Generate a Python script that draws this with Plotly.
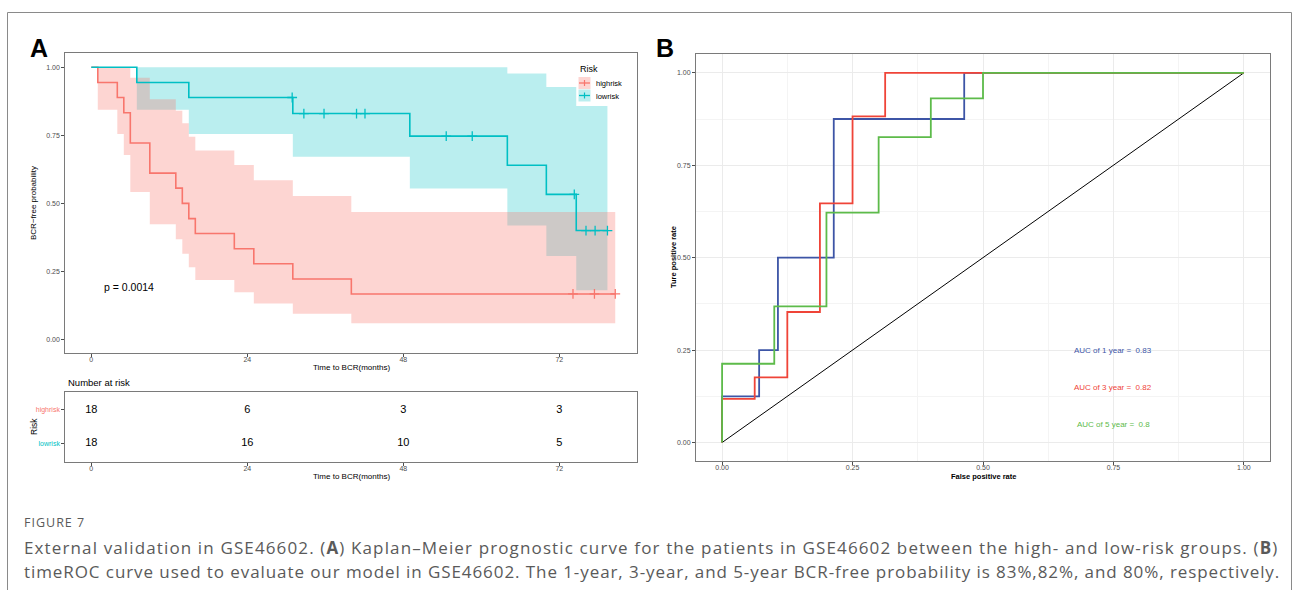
import plotly.graph_objects as go

W, H = 1293, 590

# ---------------- data ----------------
time_ticks = [0, 24, 48, 72]

# Kaplan-Meier: high risk group
hi_time = [0, 1, 4, 5, 6, 9, 13, 14, 15, 16, 22, 25, 31, 40, 80.6]
hi_surv = [1.0, 0.944, 0.889, 0.833, 0.722, 0.611, 0.556, 0.5, 0.444, 0.389, 0.333, 0.278, 0.222, 0.167, 0.167]
hi_upper = [1.0, 1.0, 1.0, 1.0, 0.962, 0.883, 0.840, 0.794, 0.745, 0.694, 0.641, 0.585, 0.527, 0.468, 0.468]
hi_lower = [1.0, 0.844, 0.755, 0.678, 0.542, 0.423, 0.368, 0.315, 0.265, 0.218, 0.173, 0.132, 0.094, 0.059, 0.059]
hi_cens_time = [74.1, 77.4, 80.6]
hi_cens_surv = [0.167, 0.167, 0.167]

# Kaplan-Meier: low risk group
lo_time = [0, 7, 15, 31, 49, 64, 70, 74.6, 79.4]
lo_surv = [1.0, 0.944, 0.889, 0.830, 0.747, 0.640, 0.533, 0.400, 0.400]
lo_upper = [1.0, 1.0, 1.0, 1.0, 1.0, 0.977, 0.928, 0.858, 0.858]
lo_lower = [1.0, 0.844, 0.755, 0.671, 0.555, 0.419, 0.306, 0.181, 0.181]
lo_cens_time = [30.9, 32.7, 35.8, 40.8, 42.1, 54.6, 58.6, 74.3, 76.1, 77.5, 79.4]
lo_cens_surv = [0.889, 0.830, 0.830, 0.830, 0.830, 0.747, 0.747, 0.533, 0.400, 0.400, 0.400]

p_value_text = "p = 0.0014"

# Number at risk
risk_groups = ["highrisk", "lowrisk"]
risk_high = [18, 6, 3, 3]
risk_low = [18, 16, 10, 5]

# time ROC
roc1_fpr = [0, 0, 0.071, 0.107, 0.214, 0.464, 1.0]
roc1_tpr = [0, 0.125, 0.25, 0.5, 0.875, 1.0, 1.0]
roc3_fpr = [0, 0, 0.0625, 0.125, 0.1875, 0.25, 0.3125, 1.0]
roc3_tpr = [0, 0.118, 0.176, 0.353, 0.647, 0.882, 1.0, 1.0]
roc5_fpr = [0, 0, 0.1, 0.2, 0.3, 0.4, 0.5, 1.0]
roc5_tpr = [0, 0.213, 0.368, 0.622, 0.826, 0.931, 1.0, 1.0]
auc_labels = ["AUC of 1 year =  0.83", "AUC of 3 year =  0.82", "AUC of 5 year =  0.8"]
auc_y = [0.25, 0.15, 0.05]
roc_ticks = [0, 0.25, 0.5, 0.75, 1.0]

# ---------------- styles ----------------
RED = "#F8766D"
CYAN = "#00BFC4"
RED_FILL = "rgba(248,118,109,0.31)"
CYAN_FILL = "rgba(0,191,196,0.27)"
ROC_COLORS = ["#3D55A6", "#EF4438", "#5DBB4A"]
FRAME = "#7a7a7a"
TICKC = "#4D4D4D"
FONT = "Liberation Sans, Arial, sans-serif"


def fx(px):
    return px / W


def fy(py):
    return 1 - py / H


fig = go.Figure()

# --- KM bands (cyan first, pink on top gives grey overlap) ---
fig.add_trace(go.Scatter(x=lo_time, y=lo_upper, mode="lines", line=dict(width=0, shape="hv"),
                         hoverinfo="skip", showlegend=False, xaxis="x", yaxis="y"))
fig.add_trace(go.Scatter(x=lo_time, y=lo_lower, mode="lines", line=dict(width=0, shape="hv"),
                         fill="tonexty", fillcolor=CYAN_FILL, hoverinfo="skip", showlegend=False,
                         xaxis="x", yaxis="y"))
fig.add_trace(go.Scatter(x=hi_time, y=hi_upper, mode="lines", line=dict(width=0, shape="hv"),
                         hoverinfo="skip", showlegend=False, xaxis="x", yaxis="y"))
fig.add_trace(go.Scatter(x=hi_time, y=hi_lower, mode="lines", line=dict(width=0, shape="hv"),
                         fill="tonexty", fillcolor=RED_FILL, hoverinfo="skip", showlegend=False,
                         xaxis="x", yaxis="y"))

# --- KM curves ---
fig.add_trace(go.Scatter(x=hi_time, y=hi_surv, mode="lines", line=dict(color=RED, width=1.6, shape="hv"),
                         showlegend=False, xaxis="x", yaxis="y"))
fig.add_trace(go.Scatter(x=lo_time, y=lo_surv, mode="lines", line=dict(color=CYAN, width=1.6, shape="hv"),
                         showlegend=False, xaxis="x", yaxis="y"))
fig.add_trace(go.Scatter(x=hi_cens_time, y=hi_cens_surv, mode="markers",
                         marker=dict(symbol="cross-thin", size=7, line=dict(color=RED, width=1.3)),
                         showlegend=False, xaxis="x", yaxis="y"))
fig.add_trace(go.Scatter(x=lo_cens_time, y=lo_cens_surv, mode="markers",
                         marker=dict(symbol="cross-thin", size=7, line=dict(color=CYAN, width=1.3)),
                         showlegend=False, xaxis="x", yaxis="y"))

# --- risk table ---
fig.add_trace(go.Scatter(x=time_ticks, y=[2] * len(time_ticks), mode="text",
                         text=[str(v) for v in risk_high], textfont=dict(size=11, color="black", family=FONT),
                         showlegend=False, xaxis="x2", yaxis="y2"))
fig.add_trace(go.Scatter(x=time_ticks, y=[1] * len(time_ticks), mode="text",
                         text=[str(v) for v in risk_low], textfont=dict(size=11, color="black", family=FONT),
                         showlegend=False, xaxis="x2", yaxis="y2"))

# --- ROC ---
fig.add_trace(go.Scatter(x=[0, 1], y=[0, 1], mode="lines", line=dict(color="black", width=1),
                         showlegend=False, xaxis="x3", yaxis="y3"))
for fpr, tpr, col in [(roc1_fpr, roc1_tpr, ROC_COLORS[0]),
                      (roc3_fpr, roc3_tpr, ROC_COLORS[1]),
                      (roc5_fpr, roc5_tpr, ROC_COLORS[2])]:
    fig.add_trace(go.Scatter(x=fpr, y=tpr, mode="lines", line=dict(color=col, width=1.8, shape="hv"),
                             showlegend=False, xaxis="x3", yaxis="y3"))

# ---------------- axes ----------------
km_x = [65.3, 636.7]
km_y = [53.3, 352.7]
tb_y = [391.5, 461.5]
roc_x = [696, 1270]
roc_y = [54.3, 461]

axis_common = dict(showline=True, mirror=True, linecolor=FRAME, linewidth=1, ticks="outside",
                   ticklen=3, tickcolor=TICKC, tickwidth=1, zeroline=False,
                   tickfont=dict(size=7, color=TICKC, family=FONT))

fig.update_layout(
    width=W, height=H, margin=dict(l=0, r=0, t=0, b=0),
    paper_bgcolor="white", plot_bgcolor="white", showlegend=False,
    xaxis=dict(domain=[fx(km_x[0]), fx(km_x[1])], range=[-4.0, 83.9], tickvals=time_ticks,
               showgrid=False, anchor="y", ticklabelstandoff=-3, **axis_common),
    yaxis=dict(domain=[fy(km_y[1]), fy(km_y[0])], range=[-0.049, 1.0515], tickvals=[0, 0.25, 0.5, 0.75, 1.0],
               tickformat=".2f", showgrid=False, anchor="x", **axis_common),
    xaxis2=dict(domain=[fx(km_x[0]), fx(km_x[1])], range=[-4.0, 83.9], tickvals=time_ticks,
                showgrid=False, anchor="y2", ticklabelstandoff=-3, **axis_common),
    yaxis2=dict(domain=[fy(tb_y[1]), fy(tb_y[0])], range=[0.45, 2.55], tickvals=[2, 1],
                ticktext=['<span style="color:%s">%s</span>' % (RED, risk_groups[0]),
                          '<span style="color:%s">%s</span>' % (CYAN, risk_groups[1])],
                showgrid=False, anchor="x2", **axis_common),
    xaxis3=dict(domain=[fx(roc_x[0]), fx(roc_x[1])], range=[-0.05, 1.05], tickvals=roc_ticks,
                tickformat=".2f", showgrid=True, gridcolor="#EBEBEB", gridwidth=1, ticklabelstandoff=-3,
                minor=dict(dtick=0.125, tick0=0, showgrid=True, gridcolor="#F4F4F4", gridwidth=0.6, ticks=""),
                anchor="y3", **axis_common),
    yaxis3=dict(domain=[fy(roc_y[1]), fy(roc_y[0])], range=[-0.05, 1.05], tickvals=roc_ticks,
                tickformat=".2f", showgrid=True, gridcolor="#EBEBEB", gridwidth=1,
                minor=dict(dtick=0.125, tick0=0, showgrid=True, gridcolor="#F4F4F4", gridwidth=0.6, ticks=""),
                anchor="x3", **axis_common),
)

ann = []


def txt(x, y, s, size, color="black", xanchor="center", yanchor="middle", angle=0, xref="paper",
        yref="paper", family=FONT):
    ann.append(dict(x=x, y=y, xref=xref, yref=yref, text=s, showarrow=False, xanchor=xanchor,
                    yanchor=yanchor, textangle=angle, font=dict(size=size, color=color, family=family)))


# panel letters
txt(fx(38.5), fy(48), "<b>A</b>", 25)
txt(fx(665), fy(48), "<b>B</b>", 25)

# KM titles
txt(fx(33), fy(203), "BCR\u2212free probability", 8, angle=-90)
txt(fx(351), fy(367.5), "Time to BCR(months)", 8)
txt(1.6, 0.193, p_value_text, 10.5, xanchor="left", xref="x", yref="y")

# Legend (manual, ggplot-like)
txt(fx(578), fy(69), "Risk", 9, xanchor="left")
txt(fx(594), fy(83), risk_groups[0], 7.5, xanchor="left")
txt(fx(594), fy(96), risk_groups[1], 7.5, xanchor="left")

# risk table titles
txt(fx(65.5), fy(382.5), "Number at risk", 9.5, xanchor="left")
txt(fx(34), fy(427), "Risk", 8.5, angle=-90)
txt(fx(351), fy(476), "Time to BCR(months)", 8)

# ROC titles
txt(fx(673), fy(257), "<b>Ture positive rate</b>", 7.5, angle=-90)
txt(fx(983), fy(476), "<b>False positive rate</b>", 7.5)
for lab, yy, col in zip(auc_labels, auc_y, ROC_COLORS):
    txt(0.75, yy, lab, 8, color=col, xref="x3", yref="y3")

# caption
CAPF = "Open Sans, sans-serif"
CAPC = "#5a5a5a"
txt(fx(22), fy(522), '<span style="letter-spacing:1px">FIGURE 7</span>', 12.5, color=CAPC,
    xanchor="left", family=CAPF)
txt(fx(22), fy(547), '<span style="letter-spacing:1.13px">%s</span>' % (
    "External validation in GSE46602. (<b>A</b>) Kaplan\u2013Meier prognostic curve for the "
    "patients in GSE46602 between the high- and low-risk groups. (<b>B</b>)"), 17, color=CAPC,
    xanchor="left", family=CAPF)
txt(fx(22), fy(571), '<span style="letter-spacing:0.92px">%s</span>' % (
    "timeROC curve used to evaluate our model in GSE46602. The 1-year, 3-year, and 5-year "
    "BCR-free probability is 83%,82%, and 80%, respectively."), 17, color=CAPC,
    xanchor="left", family=CAPF)

fig.update_layout(annotations=ann)

# shapes: outer border + legend keys
shapes = [dict(type="rect", xref="paper", yref="paper", x0=fx(7.5), x1=fx(1291.5), y0=-0.2, y1=fy(12.5),
               line=dict(color="#8a8a8a", width=1), fillcolor="rgba(0,0,0,0)", layer="below")]
for (top, bot), col, fill in [((77, 89), RED, RED_FILL), ((89.5, 101.5), CYAN, CYAN_FILL)]:
    shapes.append(dict(type="rect", xref="paper", yref="paper", x0=fx(578.5), x1=fx(590.5), y0=fy(bot),
                       y1=fy(top), line=dict(width=0), fillcolor=fill))
    mid = (top + bot) / 2
    shapes.append(dict(type="line", xref="paper", yref="paper", x0=fx(579), x1=fx(590), y0=fy(mid), y1=fy(mid),
                       line=dict(color=col, width=1.3)))
    shapes.append(dict(type="line", xref="paper", yref="paper", x0=fx(584.5), x1=fx(584.5), y0=fy(mid + 3),
                       y1=fy(mid - 3), line=dict(color=col, width=1.2)))
fig.update_layout(shapes=shapes)

fig.write_html("out.html")
